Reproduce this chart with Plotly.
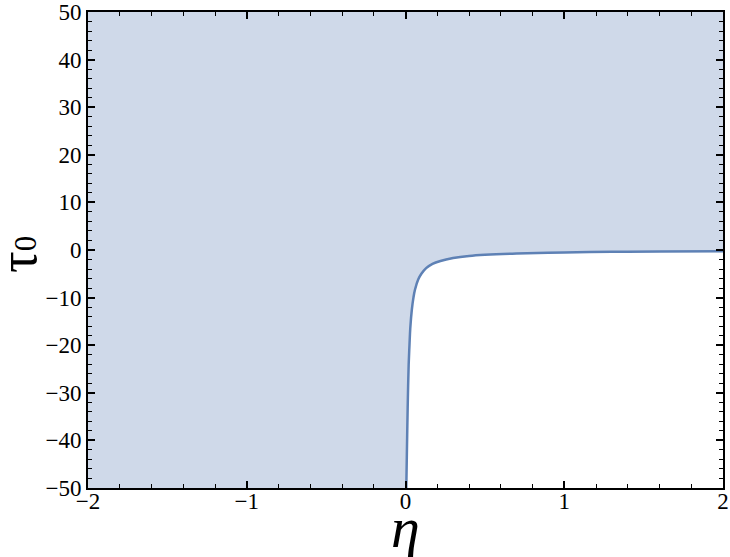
import plotly.graph_objects as go

# boundary curve
eta = [0.005, 0.008, 0.011, 0.015, 0.02, 0.025, 0.03, 0.04, 0.05, 0.06, 0.08, 0.1,
       0.13, 0.17, 0.22, 0.3, 0.4, 0.5, 0.7, 1.0, 1.3, 1.6, 2.0]
tau0 = [-50, -44, -38, -31, -24, -20, -16.5, -12.5, -10, -8.3, -6.2, -5,
        -3.8, -2.9, -2.3, -1.7, -1.25, -1.0, -0.72, -0.5, -0.38, -0.31, -0.25]

x_range = [-2, 2]
y_range = [-50, 50]
x_ticks = [-2, -1, 0, 1, 2]
y_ticks = [-50, -40, -30, -20, -10, 0, 10, 20, 30, 40, 50]

fill_color = "rgb(207,217,233)"
line_color = "rgb(94,129,181)"
serif = "Liberation Serif, Times New Roman, serif"

# shaded region: everything above / left of the curve
reg_x = [x_range[0]] + eta + [x_range[1], x_range[0]]
reg_y = [y_range[0]] + tau0 + [y_range[1], y_range[1]]

fig = go.Figure()
fig.add_trace(go.Scatter(x=reg_x, y=reg_y, fill="toself", fillcolor=fill_color,
                         mode="lines", line=dict(width=0), hoverinfo="skip"))
fig.add_trace(go.Scatter(x=eta, y=tau0, mode="lines",
                         line=dict(color=line_color, width=2.5), line_shape="spline"))

axis_font = dict(family=serif, size=23, color="black")

fig.update_xaxes(range=x_range, tickvals=x_ticks, ticks="inside", ticklen=7, tickwidth=1.5,
                 tickcolor="black", showline=True, linecolor="black", linewidth=2,
                 mirror="allticks", showgrid=False, zeroline=False, tickfont=axis_font,
                 automargin=False, ticklabeloverflow="allow", ticklabelstandoff=-9,
                 minor=dict(dtick=0.2, ticks="inside", ticklen=4, tickcolor="black", tickwidth=1.2))
fig.update_yaxes(range=y_range, tickvals=y_ticks, ticks="inside", ticklen=7, tickwidth=1.5,
                 tickcolor="black", showline=True, linecolor="black", linewidth=2,
                 mirror="allticks", showgrid=False, zeroline=False, tickfont=axis_font,
                 automargin=False, ticklabeloverflow="allow",
                 minor=dict(dtick=2, ticks="inside", ticklen=4, tickcolor="black", tickwidth=1.2))

fig.add_annotation(text="<i>η</i>", xref="paper", yref="paper", x=0.5, y=-0.01,
                   xanchor="center", yanchor="top", showarrow=False,
                   font=dict(family=serif, size=58, color="black"))
fig.add_annotation(text="τ<span style='font-size:31px'>0</span>", xref="paper", yref="paper",
                   x=-0.11, y=0.49, xanchor="center", yanchor="middle", textangle=-90,
                   showarrow=False, font=dict(family=serif, size=54, color="black"))

fig.update_layout(width=730, height=557, showlegend=False,
                  plot_bgcolor="white", paper_bgcolor="white",
                  margin=dict(l=88, r=7, t=12, b=69))

# drop the default body margin so the figure fills the window exactly
fig.write_html("out.html", config={"displayModeBar": False},
               post_script="document.body.style.margin='0';")
